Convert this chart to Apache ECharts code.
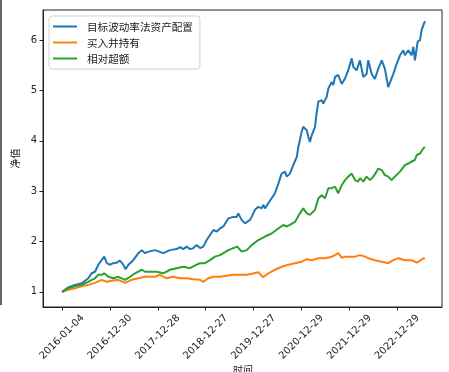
<!DOCTYPE html>
<html>
<head>
<meta charset="utf-8">
<script src="https://cdn.jsdelivr.net/npm/echarts@6/dist/echarts.min.js"></script>
<style>
  html, body { margin: 0; padding: 0; background: #fff; }
  #chart { width: 449px; height: 372px; }
</style>
</head>
<body>
<div id="chart"></div>
<script>
// Trading-day tick positions (one label every 244 trading days)
const tickDays = [0, 244, 488, 732, 976, 1220, 1464, 1708];
const tickLabels = ['2016-01-04', '2016-12-30', '2017-12-28', '2018-12-27',
                    '2019-12-27', '2020-12-29', '2021-12-29', '2022-12-29'];
const yTicks = [1, 2, 3, 4, 5, 6];

const seriesNames = ['目标波动率法资产配置', '买入并持有', '相对超额'];

// Net value curves: trading-day index and net value
const targetVolDays = [0,32,66,100,134,151,168,185,202,215,228,245,261,279,295,312,324,338,363,389,406,423,440,474,
  482,516,533,550,584,601,618,635,652,669,686,703,720,737,754,771,788,805,822,847,873,890,898,915,932,958,
  966,983,1000,1017,1025,1034,1051,1068,1085,1102,1119,1136,1145,1161,1178,1196,1204,1221,1229,1247,1255,1263,
  1272,1289,1297,1306,1323,1331,1348,1357,1374,1382,1391,1407,1425,1442,1458,1476,1484,1501,1518,1535,1552,
  1560,1578,1594,1611,1629,1645,1662,1671,1688,1705,1722,1739,1747,1764,1781,1790,1798,1812,1824,1832,1844,1849];
const targetVolValues = [1.00,1.09,1.14,1.17,1.27,1.37,1.40,1.54,1.63,1.70,1.57,1.54,1.57,1.58,1.62,1.54,1.45,1.54,1.63,1.77,1.83,1.77,1.80,1.83,
  1.85,1.77,1.80,1.83,1.85,1.89,1.85,1.90,1.85,1.87,1.93,1.87,1.90,2.03,2.13,2.23,2.20,2.26,2.30,2.46,2.49,2.49,2.56,2.43,2.36,2.43,
  2.49,2.63,2.69,2.66,2.73,2.66,2.76,2.86,2.96,3.15,3.35,3.39,3.29,3.35,3.52,3.68,3.88,4.18,4.28,4.21,4.08,3.98,
  4.11,4.28,4.55,4.78,4.81,4.74,4.87,5.04,5.17,5.11,5.27,5.31,5.13,5.24,5.40,5.64,5.47,5.40,5.60,5.27,5.33,
  5.60,5.33,5.23,5.43,5.60,5.43,5.07,5.04,5.33,5.53,5.70,5.80,5.70,5.80,5.70,5.87,5.60,5.97,6.00,6.20,6.33,6.38];

const buyHoldDays = [0,32,66,100,134,168,202,228,253,287,321,355,389,423,474,499,533,567,601,635,669,703,720,745,771,805,
  839,873,907,941,966,1000,1025,1051,1085,1119,1153,1187,1221,1247,1272,1306,1340,1374,1391,1407,1425,1442,1493,1518,
  1544,1560,1594,1629,1662,1688,1713,1747,1781,1807,1824,1840,1849];
const buyHoldValues = [1.00,1.04,1.07,1.11,1.14,1.18,1.24,1.20,1.22,1.24,1.18,1.24,1.27,1.30,1.30,1.34,1.27,1.30,1.27,1.27,1.25,1.24,1.20,1.27,1.30,1.30,
  1.32,1.34,1.34,1.34,1.36,1.39,1.29,1.37,1.44,1.50,1.54,1.57,1.60,1.65,1.63,1.67,1.67,1.70,1.73,1.77,1.68,1.70,1.70,1.73,
  1.70,1.67,1.63,1.60,1.57,1.63,1.67,1.63,1.63,1.58,1.62,1.67,1.66];

const excessDays = [0,32,66,100,134,151,168,185,202,215,236,261,287,304,321,346,372,406,423,457,482,516,550,584,618,652,686,703,
  728,754,779,805,822,847,873,893,915,941,966,1000,1034,1068,1102,1127,1145,1161,1187,1212,1229,1247,1263,1289,1306,
  1323,1340,1357,1374,1391,1407,1425,1442,1458,1476,1493,1509,1518,1535,1552,1569,1586,1603,1611,1629,1645,1662,1679,
  1696,1722,1747,1764,1781,1798,1807,1824,1840,1849];
const excessValues = [1.00,1.07,1.11,1.14,1.20,1.24,1.27,1.34,1.34,1.37,1.30,1.27,1.30,1.27,1.24,1.30,1.37,1.44,1.40,1.40,1.40,1.37,1.44,1.47,1.50,1.47,1.54,1.57,
  1.57,1.63,1.70,1.73,1.77,1.83,1.87,1.90,1.80,1.83,1.93,2.03,2.10,2.16,2.26,2.33,2.30,2.33,2.39,2.56,2.66,2.56,2.53,2.63,2.86,
  2.92,2.86,3.06,3.06,3.09,2.96,3.12,3.22,3.29,3.35,3.22,3.19,3.26,3.19,3.29,3.22,3.29,3.39,3.45,3.42,3.32,3.29,3.22,
  3.29,3.39,3.52,3.55,3.59,3.62,3.72,3.75,3.85,3.88];

const colors = ['#1f77b4', '#ff7f0e', '#2ca02c'];

function pairs(days, values) {
  return days.map((d, i) => [d, values[i]]);
}

const chart = echarts.init(document.getElementById('chart'), null, { renderer: 'canvas' });

const tickFont = { fontFamily: 'DejaVu Sans', fontSize: 10, color: '#222' };

chart.setOption({
  animation: false,
  backgroundColor: '#fff',
  color: colors,
  grid: {
    left: 43, right: 7, top: 10, bottom: 65,
    show: true, borderColor: '#222', borderWidth: 1, backgroundColor: 'transparent'
  },
  legend: {
    orient: 'vertical',
    left: 49, top: 16,
    padding: [4, 7, 4, 4],
    itemGap: 3,
    itemWidth: 24, itemHeight: 2,
    icon: 'rect',
    backgroundColor: 'rgba(255,255,255,0.8)',
    borderColor: '#d0d0d0', borderWidth: 1, borderRadius: 3,
    textStyle: {
      fontFamily: 'Noto Sans CJK SC', fontSize: 10.6, color: '#222',
      padding: [0, 0, 0, 5], lineHeight: 13
    },
    data: seriesNames
  },
  xAxis: {
    type: 'value',
    min: -97, max: 1936,
    splitLine: { show: false },
    axisLine: { show: true, onZero: false, lineStyle: { color: '#222', width: 1 } },
    axisTick: { show: true, length: 3.5, inside: false, customValues: tickDays, lineStyle: { color: '#222' } },
    axisLabel: {
      customValues: tickDays,
      rotate: 45, align: 'center', verticalAlign: 'middle', margin: 30,
      ...tickFont,
      formatter: v => tickLabels[tickDays.indexOf(Math.round(v))] || ''
    }
  },
  yAxis: {
    type: 'value',
    min: 0.7, max: 6.6,
    name: '净值',
    nameLocation: 'middle',
    nameGap: 20,
    nameRotate: 90,
    nameTextStyle: { fontFamily: 'Noto Sans CJK SC', fontSize: 10, color: '#222' },
    splitLine: { show: false },
    axisLine: { show: true, onZero: false, lineStyle: { color: '#222', width: 1 } },
    axisTick: { show: true, length: 3.5, customValues: yTicks, lineStyle: { color: '#222' } },
    axisLabel: { customValues: yTicks, margin: 6, ...tickFont, formatter: v => String(Math.round(v)) }
  },
  graphic: [
    { type: 'line', shape: { x1: 1, y1: 0, x2: 1, y2: 305 }, style: { stroke: '#333', lineWidth: 1.5 }, silent: true },
    { type: 'text', left: 233, top: 365, style: { text: '时间', fontFamily: 'Noto Sans CJK SC', fontSize: 10, fill: '#222' } }
  ],
  series: [
    { name: seriesNames[0], type: 'line', data: pairs(targetVolDays, targetVolValues), showSymbol: false, lineStyle: { width: 2 } },
    { name: seriesNames[1], type: 'line', data: pairs(buyHoldDays, buyHoldValues), showSymbol: false, lineStyle: { width: 2 } },
    { name: seriesNames[2], type: 'line', data: pairs(excessDays, excessValues), showSymbol: false, lineStyle: { width: 2 } }
  ]
});
</script>
</body>
</html>
